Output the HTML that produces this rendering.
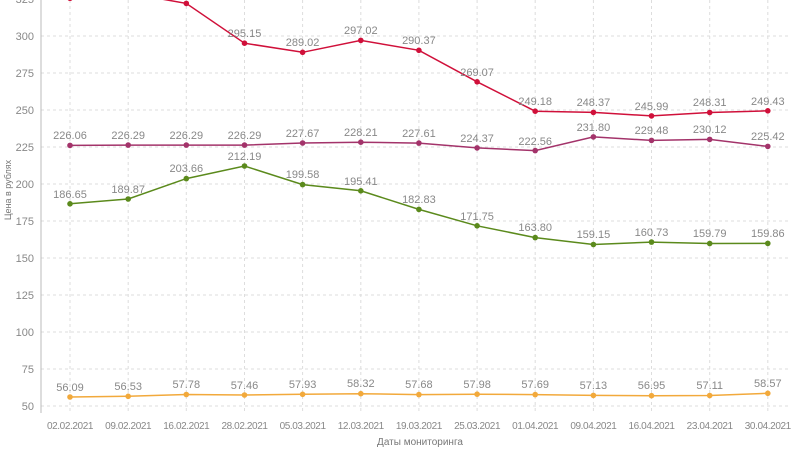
<!DOCTYPE html><html><head><meta charset="utf-8"><style>body{margin:0;background:#fff}svg{display:block;font-family:"Liberation Sans",sans-serif}
.g{stroke:#ddd;stroke-dasharray:3,3}.t{font-size:11px;fill:#888}.m{text-anchor:middle}.e{text-anchor:end}.d{font-size:10px;letter-spacing:-0.4px}</style></head><body>
<svg width="800" height="449" xmlns="http://www.w3.org/2000/svg">
<g class="g">
<line x1="41" x2="790" y1="406" y2="406"/><line x1="41" x2="790" y1="369" y2="369"/><line x1="41" x2="790" y1="332" y2="332"/><line x1="41" x2="790" y1="295" y2="295"/><line x1="41" x2="790" y1="258" y2="258"/><line x1="41" x2="790" y1="221" y2="221"/><line x1="41" x2="790" y1="184" y2="184"/><line x1="41" x2="790" y1="147" y2="147"/><line x1="41" x2="790" y1="110" y2="110"/><line x1="41" x2="790" y1="73" y2="73"/><line x1="41" x2="790" y1="36" y2="36"/>
<line x1="70" x2="70" y1="0" y2="412"/><line x1="128.2" x2="128.2" y1="0" y2="412"/><line x1="186.3" x2="186.3" y1="0" y2="412"/><line x1="244.5" x2="244.5" y1="0" y2="412"/><line x1="302.6" x2="302.6" y1="0" y2="412"/><line x1="360.8" x2="360.8" y1="0" y2="412"/><line x1="418.9" x2="418.9" y1="0" y2="412"/><line x1="477.1" x2="477.1" y1="0" y2="412"/><line x1="535.2" x2="535.2" y1="0" y2="412"/><line x1="593.4" x2="593.4" y1="0" y2="412"/><line x1="651.5" x2="651.5" y1="0" y2="412"/><line x1="709.7" x2="709.7" y1="0" y2="412"/><line x1="767.8" x2="767.8" y1="0" y2="412"/>
</g>
<line x1="41" x2="41" y1="0" y2="413" stroke="#bbb"/>
<g class="t e">
<text x="34" y="410">50</text><text x="34" y="373">75</text><text x="34" y="336">100</text><text x="34" y="299">125</text><text x="34" y="262">150</text><text x="34" y="225">175</text><text x="34" y="188">200</text><text x="34" y="151">225</text><text x="34" y="114">250</text><text x="34" y="77">275</text><text x="34" y="40">300</text><text x="34" y="3">325</text>
</g>
<g class="t m d">
<text x="70" y="429">02.02.2021</text><text x="128.2" y="429">09.02.2021</text><text x="186.3" y="429">16.02.2021</text><text x="244.5" y="429">28.02.2021</text><text x="302.6" y="429">05.03.2021</text><text x="360.8" y="429">12.03.2021</text><text x="418.9" y="429">19.03.2021</text><text x="477.1" y="429">25.03.2021</text><text x="535.2" y="429">01.04.2021</text><text x="593.4" y="429">09.04.2021</text><text x="651.5" y="429">16.04.2021</text><text x="709.7" y="429">23.04.2021</text><text x="767.8" y="429">30.04.2021</text>
</g>
<g fill="none" stroke-width="1.5">
<polyline stroke="#d0103a" points="70,-1.7 128.2,-6.9 186.3,3.4 244.5,43.2 302.6,52.3 360.8,40.4 418.9,50.3 477.1,81.8 535.2,111.2 593.4,112.4 651.5,115.9 709.7,112.5 767.8,110.8"/>
<polyline stroke="#a3336a" points="70,145.4 128.2,145.1 186.3,145.1 244.5,145.1 302.6,143 360.8,142.2 418.9,143.1 477.1,147.9 535.2,150.6 593.4,136.9 651.5,140.4 709.7,139.4 767.8,146.4"/>
<polyline stroke="#5b8a1c" points="70,203.8 128.2,199 186.3,178.6 244.5,166 302.6,184.6 360.8,190.8 418.9,209.4 477.1,225.8 535.2,237.6 593.4,244.5 651.5,242.1 709.7,243.5 767.8,243.4"/>
<polyline stroke="#f2a93b" points="70,397 128.2,396.3 186.3,394.5 244.5,395 302.6,394.3 360.8,393.7 418.9,394.6 477.1,394.2 535.2,394.6 593.4,395.4 651.5,395.7 709.7,395.5 767.8,393.3"/>
</g>
<g fill="#d0103a"><circle cx="70" cy="-1.7" r="2.8"/><circle cx="186.3" cy="3.4" r="2.8"/><circle cx="244.5" cy="43.2" r="2.8"/><circle cx="302.6" cy="52.3" r="2.8"/><circle cx="360.8" cy="40.4" r="2.8"/><circle cx="418.9" cy="50.3" r="2.8"/><circle cx="477.1" cy="81.8" r="2.8"/><circle cx="535.2" cy="111.2" r="2.8"/><circle cx="593.4" cy="112.4" r="2.8"/><circle cx="651.5" cy="115.9" r="2.8"/><circle cx="709.7" cy="112.5" r="2.8"/><circle cx="767.8" cy="110.8" r="2.8"/></g>
<g fill="#a3336a"><circle cx="70" cy="145.4" r="2.8"/><circle cx="128.2" cy="145.1" r="2.8"/><circle cx="186.3" cy="145.1" r="2.8"/><circle cx="244.5" cy="145.1" r="2.8"/><circle cx="302.6" cy="143" r="2.8"/><circle cx="360.8" cy="142.2" r="2.8"/><circle cx="418.9" cy="143.1" r="2.8"/><circle cx="477.1" cy="147.9" r="2.8"/><circle cx="535.2" cy="150.6" r="2.8"/><circle cx="593.4" cy="136.9" r="2.8"/><circle cx="651.5" cy="140.4" r="2.8"/><circle cx="709.7" cy="139.4" r="2.8"/><circle cx="767.8" cy="146.4" r="2.8"/></g>
<g fill="#5b8a1c"><circle cx="70" cy="203.8" r="2.8"/><circle cx="128.2" cy="199" r="2.8"/><circle cx="186.3" cy="178.6" r="2.8"/><circle cx="244.5" cy="166" r="2.8"/><circle cx="302.6" cy="184.6" r="2.8"/><circle cx="360.8" cy="190.8" r="2.8"/><circle cx="418.9" cy="209.4" r="2.8"/><circle cx="477.1" cy="225.8" r="2.8"/><circle cx="535.2" cy="237.6" r="2.8"/><circle cx="593.4" cy="244.5" r="2.8"/><circle cx="651.5" cy="242.1" r="2.8"/><circle cx="709.7" cy="243.5" r="2.8"/><circle cx="767.8" cy="243.4" r="2.8"/></g>
<g fill="#f2a93b"><circle cx="70" cy="397" r="2.8"/><circle cx="128.2" cy="396.3" r="2.8"/><circle cx="186.3" cy="394.5" r="2.8"/><circle cx="244.5" cy="395" r="2.8"/><circle cx="302.6" cy="394.3" r="2.8"/><circle cx="360.8" cy="393.7" r="2.8"/><circle cx="418.9" cy="394.6" r="2.8"/><circle cx="477.1" cy="394.2" r="2.8"/><circle cx="535.2" cy="394.6" r="2.8"/><circle cx="593.4" cy="395.4" r="2.8"/><circle cx="651.5" cy="395.7" r="2.8"/><circle cx="709.7" cy="395.5" r="2.8"/><circle cx="767.8" cy="393.3" r="2.8"/></g>
<g class="t m">
<text x="244.5" y="37">295.15</text><text x="302.6" y="46">289.02</text><text x="360.8" y="34">297.02</text><text x="418.9" y="44">290.37</text><text x="477.1" y="76">269.07</text><text x="535.2" y="105">249.18</text><text x="593.4" y="106">248.37</text><text x="651.5" y="110">245.99</text><text x="709.7" y="106">248.31</text><text x="767.8" y="105">249.43</text>
<text x="70" y="139">226.06</text><text x="128.2" y="139">226.29</text><text x="186.3" y="139">226.29</text><text x="244.5" y="139">226.29</text><text x="302.6" y="137">227.67</text><text x="360.8" y="136">228.21</text><text x="418.9" y="137">227.61</text><text x="477.1" y="142">224.37</text><text x="535.2" y="145">222.56</text><text x="593.4" y="131">231.80</text><text x="651.5" y="134">229.48</text><text x="709.7" y="133">230.12</text><text x="767.8" y="140">225.42</text>
<text x="70" y="198">186.65</text><text x="128.2" y="193">189.87</text><text x="186.3" y="172">203.66</text><text x="244.5" y="160">212.19</text><text x="302.6" y="178">199.58</text><text x="360.8" y="185">195.41</text><text x="418.9" y="203">182.83</text><text x="477.1" y="220">171.75</text><text x="535.2" y="231">163.80</text><text x="593.4" y="238">159.15</text><text x="651.5" y="236">160.73</text><text x="709.7" y="237">159.79</text><text x="767.8" y="237">159.86</text>
<text x="70" y="391">56.09</text><text x="128.2" y="390">56.53</text><text x="186.3" y="388">57.78</text><text x="244.5" y="389">57.46</text><text x="302.6" y="388">57.93</text><text x="360.8" y="387">58.32</text><text x="418.9" y="388">57.68</text><text x="477.1" y="388">57.98</text><text x="535.2" y="388">57.69</text><text x="593.4" y="389">57.13</text><text x="651.5" y="389">56.95</text><text x="709.7" y="389">57.11</text><text x="767.8" y="387">58.57</text>
</g>
<text x="420" y="445" font-size="10" fill="#777" text-anchor="middle">Даты мониторинга</text>
<text transform="translate(11,190) rotate(-90)" font-size="9" fill="#777" text-anchor="middle">Цена в рублях</text>
</svg></body></html>
